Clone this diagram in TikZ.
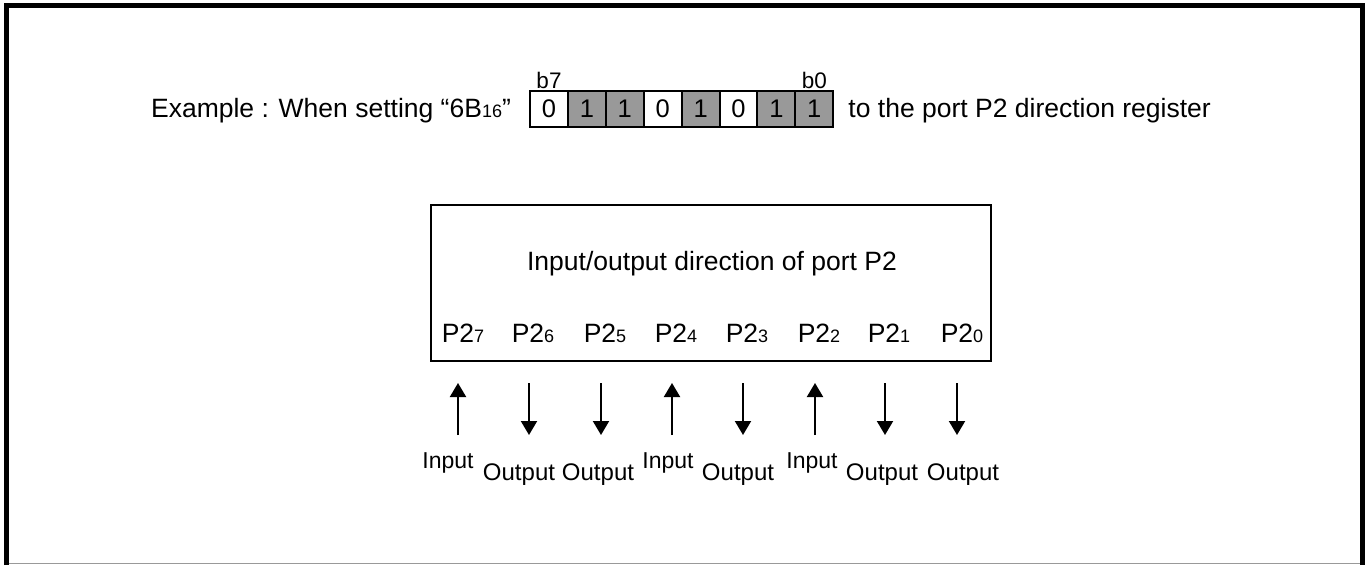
\documentclass[tikz,border=0pt]{standalone}
\usepackage{fontspec}
\setmainfont{Liberation Sans}
\usepackage{tikz}
\usetikzlibrary{positioning,arrows.meta}
\definecolor{bitgray}{HTML}{999999}
\tikzset{
  >={Triangle[length=14pt,width=16pt]},
  txt/.style={inner sep=0pt, font=\fontsize{26.5}{31}\selectfont},
  bitcell/.style={draw, line width=2pt, minimum width=37.9pt, minimum height=36pt,
    inner sep=0pt, outer sep=0pt, font=\fontsize{25.5}{30}\selectfont},
  bitset/.style={bitcell, fill=bitgray},
  bitlbl/.style={inner sep=0pt, font=\fontsize{22.5}{26}\selectfont},
  inlbl/.style={inner sep=0pt, font=\fontsize{23}{28}\selectfont},
  outlbl/.style={inner sep=0pt, font=\fontsize{24}{28}\selectfont},
  dirarrow/.style={->, line width=2pt},
}
\newcommand{\subnum}[1]{{\fontsize{18}{20}\selectfont #1}}

\begin{document}
\begin{tikzpicture}[x=1pt, y=-1pt]
  \useasboundingbox (0,0) rectangle (1368,565);
  % frame
  \draw[line width=5pt] (6.5,565) -- (6.5,5.5) -- (1362.5,5.5) -- (1362.5,565);
  \draw[line width=1.5pt, black!40] (9,563.5) -- (1360,563.5);

  % register value 6B
  \node[bitcell]           (c7) at (549,109) {0};
  \node[bitset]            (c6) [right=0pt of c7] {1};
  \node[bitset]            (c5) [right=0pt of c6] {1};
  \node[bitcell]           (c4) [right=0pt of c5] {0};
  \node[bitset]            (c3) [right=0pt of c4] {1};
  \node[bitcell]           (c2) [right=0pt of c3] {0};
  \node[bitset]            (c1) [right=0pt of c2] {1};
  \node[bitset]            (c0) [right=0pt of c1] {1};
  \node[bitlbl, anchor=base] (lb7) at ([yshift=3pt]c7.north) {b7};
  \node[bitlbl, anchor=base] (lb0) at ([yshift=3pt]c0.north) {b0};
  \node[txt, anchor=base east] (ex) at ([xshift=-19pt]c7.base west)
    {Example : When setting “6B\subnum{16}”};
  \node[txt, anchor=base west] (reg) at ([xshift=15pt]c0.base east)
    {to the port P2 direction register};

  % port P2 box
  \node[draw, line width=2pt, minimum width=560pt, minimum height=156pt,
    inner sep=0pt, outer sep=0pt] (dirbox) at (711,283) {};
  \node[txt, anchor=base] (title) at (712,270) {Input/output direction of port P2};
  \node[txt, anchor=base] (p7) at (463,342) {P2\subnum{7}};
  \node[txt, anchor=base] (p6) at (533,342) {P2\subnum{6}};
  \node[txt, anchor=base] (p5) at (605,342) {P2\subnum{5}};
  \node[txt, anchor=base] (p4) at (676,342) {P2\subnum{4}};
  \node[txt, anchor=base] (p3) at (747,342) {P2\subnum{3}};
  \node[txt, anchor=base] (p2) at (819,342) {P2\subnum{2}};
  \node[txt, anchor=base] (p1) at (889,342) {P2\subnum{1}};
  \node[txt, anchor=base] (p0) at (962,342) {P2\subnum{0}};

  % direction arrows
  \coordinate (t7) at (458,383); \coordinate (u7) at (458,435);
  \coordinate (t6) at (529,383); \coordinate (u6) at (529,435);
  \coordinate (t5) at (601,383); \coordinate (u5) at (601,435);
  \coordinate (t4) at (672,383); \coordinate (u4) at (672,435);
  \coordinate (t3) at (743,383); \coordinate (u3) at (743,435);
  \coordinate (t2) at (815,383); \coordinate (u2) at (815,435);
  \coordinate (t1) at (885,383); \coordinate (u1) at (885,435);
  \coordinate (t0) at (957,383); \coordinate (u0) at (957,435);
  \path[dirarrow]
    (u7) edge (t7)
    (t6) edge (u6)
    (t5) edge (u5)
    (u4) edge (t4)
    (t3) edge (u3)
    (u2) edge (t2)
    (t1) edge (u1)
    (t0) edge (u0);

  \node[inlbl, anchor=base]  (d7) at (448,468) {Input};
  \node[outlbl, anchor=base] (d6) at (519,480) {Output};
  \node[outlbl, anchor=base] (d5) at (598,480) {Output};
  \node[inlbl, anchor=base]  (d4) at (668,468) {Input};
  \node[outlbl, anchor=base] (d3) at (738,480) {Output};
  \node[inlbl, anchor=base]  (d2) at (812,468) {Input};
  \node[outlbl, anchor=base] (d1) at (882,480) {Output};
  \node[outlbl, anchor=base] (d0) at (963,480) {Output};
\end{tikzpicture}
\end{document}
